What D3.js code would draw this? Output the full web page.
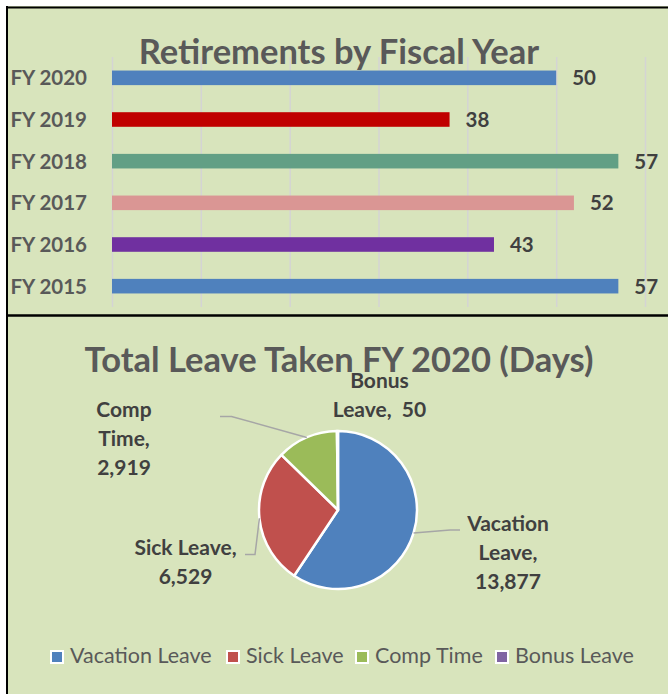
<!DOCTYPE html>
<html>
<head>
<meta charset="utf-8">
<script src="https://cdn.jsdelivr.net/npm/d3@7"></script>
<style>
  html, body { margin: 0; padding: 0; background: #ffffff; }
  svg { display: block; font-family: Lato, "Open Sans", sans-serif; }
</style>
</head>
<body>
<svg id="chart" width="668" height="694"></svg>
<script>
// ---------- data ----------
const barTitle = "Retirements by Fiscal Year";
const fiscalYears = ["FY 2020", "FY 2019", "FY 2018", "FY 2017", "FY 2016", "FY 2015"];
const retirements = [50, 38, 57, 52, 43, 57];
const barColors = ["#4F81BD", "#C00000", "#629F85", "#DA9694", "#7030A0", "#4F81BD"];
const xTicks = [0, 10, 20, 30, 40, 50, 60];

const pieTitle = "Total Leave Taken FY 2020 (Days)";
const leaveTypes = ["Vacation Leave", "Sick Leave", "Comp Time", "Bonus Leave"];
const leaveDays = [13877, 6529, 2919, 50];
const leaveColors = ["#4F81BD", "#C0504D", "#9BBB59", "#8064A2"];

// ---------- setup ----------
const svg = d3.select("#chart");
const W = 668, H = 694;
const bg = "#D8E4BC";

svg.append("rect").attr("x", 6).attr("y", 6).attr("width", W).attr("height", H).attr("fill", bg);
svg.append("line").attr("x1", 6).attr("x2", W).attr("y1", 7.5).attr("y2", 7.5).attr("stroke", "#000").attr("stroke-width", 2);
svg.append("line").attr("x1", 7).attr("x2", 7).attr("y1", 6).attr("y2", H).attr("stroke", "#000").attr("stroke-width", 2);
svg.append("line").attr("x1", 6).attr("x2", W).attr("y1", 315.5).attr("y2", 315.5).attr("stroke", "#000").attr("stroke-width", 2.5);

// ---------- bar chart ----------
const barRows = fiscalYears.map((c, i) => ({ cat: c, v: retirements[i], color: barColors[i] }));
const x = d3.scaleLinear().domain([0, 60]).range([112, 645]);
const y = d3.scaleBand().domain(fiscalYears).range([57, 307]).paddingInner(0.65).paddingOuter(0.325);

const grid = svg.append("g").attr("transform", "translate(0,307)")
  .call(d3.axisBottom(x).tickValues(xTicks).tickSize(-250).tickFormat(""));
grid.select(".domain").remove();
grid.selectAll(".tick line").attr("stroke", "#D4D4D4").attr("stroke-width", 1.5);

svg.append("text").attr("x", 339).attr("y", 63.5).attr("text-anchor", "middle")
  .attr("font-size", 34.5).attr("font-weight", 700).attr("fill", "#595959").text(barTitle);

svg.append("g").selectAll("rect").data(barRows).join("rect")
  .attr("x", x(0)).attr("y", d => y(d.cat))
  .attr("width", d => x(d.v) - x(0)).attr("height", y.bandwidth())
  .attr("fill", d => d.color);

const yAxis = svg.append("g").attr("transform", "translate(111,0)")
  .call(d3.axisLeft(y).tickSize(0).tickPadding(24));
yAxis.select(".domain").remove();
yAxis.selectAll(".tick text").attr("font-family", "Lato, sans-serif").attr("font-size", 20.5)
  .attr("font-weight", 700).attr("fill", "#595959").attr("dy", "0.36em");

svg.append("g").selectAll("text").data(barRows).join("text")
  .attr("x", d => x(d.v) + 16).attr("y", d => y(d.cat) + y.bandwidth() / 2 + 7.5)
  .attr("font-size", 20.5).attr("font-weight", 700).attr("fill", "#404040")
  .text(d => d.v);

// ---------- pie chart ----------
svg.append("text").attr("x", 339).attr("y", 371.5).attr("text-anchor", "middle")
  .attr("font-size", 34.5).attr("font-weight", 700).attr("fill", "#595959").text(pieTitle);

const pieRows = leaveTypes.map((n, i) => ({ name: n, v: leaveDays[i], color: leaveColors[i] }));
const cx = 338, cy = 510, R = 79;
const pie = d3.pie().sort(null).value(d => d.v);
const arcs = pie(pieRows);
const arc = d3.arc().innerRadius(0).outerRadius(R);
const gPie = svg.append("g").attr("transform", `translate(${cx},${cy})`);
gPie.selectAll("path").data(arcs).join("path")
  .attr("d", arc).attr("fill", d => d.data.color)
  .attr("stroke", "#ffffff").attr("stroke-width", 2.5).attr("stroke-linejoin", "round");

const fmt = d3.format(",");
// label layout: lines, anchor centre x, first baseline, leader polyline points (label side first)
const labelLayout = [
  { lines: d => ["Vacation", "Leave,", fmt(d.v)], lx: 508, ly: 531, lead: [[460, 530], [450, 530]] },
  { lines: d => ["Sick Leave,", fmt(d.v)], lx: 185.5, ly: 555, lead: [[245, 554.5], [255, 554.5]] },
  { lines: d => ["Comp", "Time,", fmt(d.v)], lx: 124, ly: 417, lead: [[220, 416.5], [231.5, 416.5]] },
  { lines: d => ["Bonus", "Leave,  " + fmt(d.v)], lx: 379.5, ly: 388, lead: null }
];

arcs.forEach((a, i) => {
  const L = labelLayout[i];
  const mid = (a.startAngle + a.endAngle) / 2;
  if (L.lead) {
    const px = cx + R * Math.sin(mid), py = cy - R * Math.cos(mid);
    const pts = L.lead.concat([[px, py]]);
    svg.append("path").attr("d", d3.line()(pts)).attr("fill", "none")
      .attr("stroke", "#A6A6A6").attr("stroke-width", 1.5);
  }
  const t = svg.append("text").attr("text-anchor", "middle").attr("font-size", 21)
    .attr("font-weight", 700).attr("fill", "#404040").style("white-space", "pre");
  L.lines(a.data).forEach((s, k) => {
    t.append("tspan").attr("x", L.lx).attr("y", L.ly + k * 29).text(s);
  });
});

// ---------- legend ----------
const legendX = [51, 227, 356, 496];
const lg = svg.append("g").selectAll("g").data(pieRows).join("g")
  .attr("transform", (d, i) => `translate(${legendX[i]},651)`);
lg.append("rect").attr("width", 12).attr("height", 12).attr("fill", d => d.color)
  .attr("stroke", "#ffffff").attr("stroke-width", 2);
lg.append("text").attr("x", 19).attr("y", 12).attr("font-size", 21.5)
  .attr("fill", "#595959").text(d => d.name);
</script>
</body>
</html>
